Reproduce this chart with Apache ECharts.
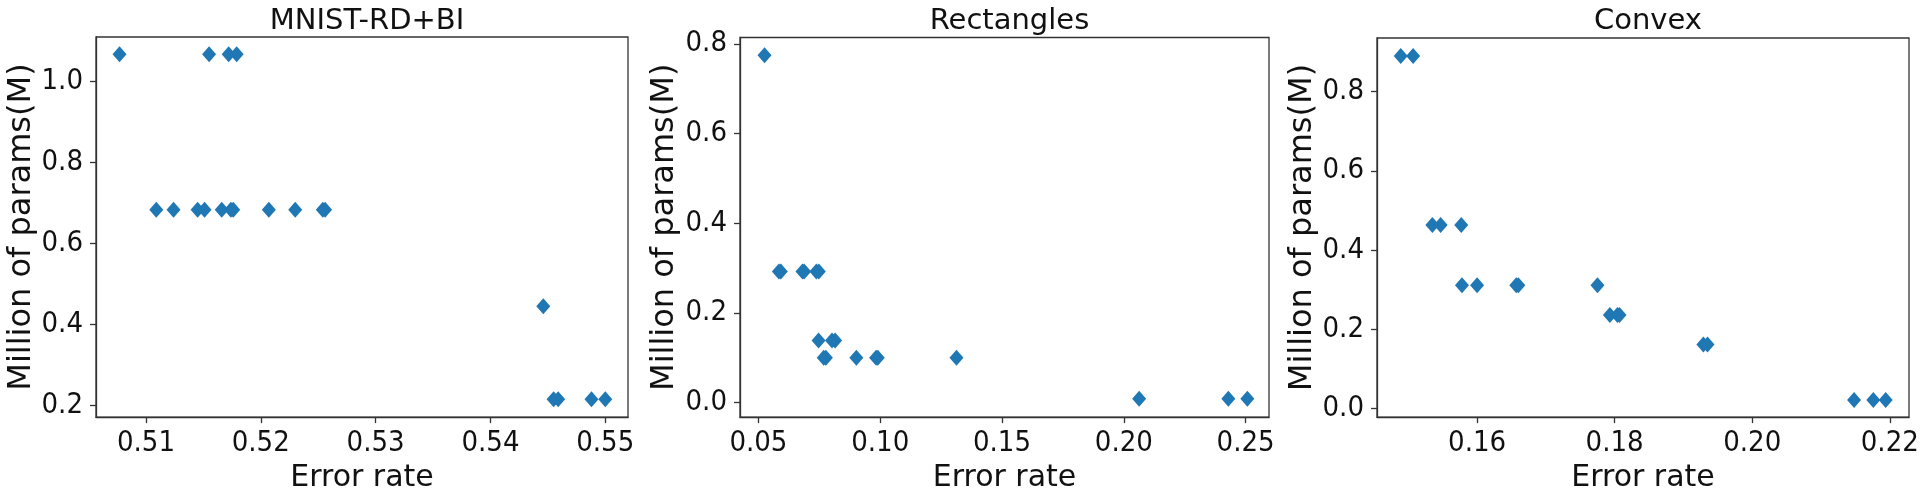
<!DOCTYPE html>
<html><head><meta charset="utf-8">
<script src="https://cdn.jsdelivr.net/npm/echarts@6/dist/echarts.min.js"></script>
<style>html,body{margin:0;padding:0;background:#fff;}#c{width:1922px;height:498px;}</style>
</head><body><div id="c"></div>
<script>
// ---- data ----
const titles = ['MNIST-RD+BI', 'Rectangles', 'Convex'];
const xName = 'Error rate';
const yName = 'Million of params(M)';

const mnistErr = [0.5077, 0.5155, 0.5172, 0.5179,
  0.5109, 0.5124, 0.5145, 0.5151, 0.5166, 0.5174, 0.5176, 0.5207, 0.5230, 0.5254, 0.5256,
  0.5446,
  0.5455, 0.5459, 0.5488, 0.5500];
const mnistParams = [1.066, 1.066, 1.066, 1.066,
  0.683, 0.683, 0.683, 0.683, 0.683, 0.683, 0.683, 0.683, 0.683, 0.683, 0.683,
  0.445,
  0.216, 0.216, 0.216, 0.216];

const rectErr = [0.0525,
  0.0584, 0.0592, 0.0681, 0.0688, 0.0738, 0.0748,
  0.0747, 0.0802, 0.0815,
  0.0768, 0.0777, 0.0902, 0.0983, 0.0990, 0.1313,
  0.2063, 0.2429, 0.2507];
const rectParams = [0.775,
  0.292, 0.292, 0.292, 0.292, 0.292, 0.292,
  0.138, 0.138, 0.138,
  0.100, 0.100, 0.100, 0.100, 0.100, 0.100,
  0.008, 0.008, 0.008];

const convexErr = [0.1489, 0.1507,
  0.1535, 0.1547, 0.1577,
  0.1578, 0.1600, 0.1657, 0.1660, 0.1775,
  0.1793, 0.1804, 0.1807,
  0.1929, 0.1935,
  0.2148, 0.2176, 0.2194];
const convexParams = [0.890, 0.890,
  0.463, 0.463, 0.463,
  0.311, 0.311, 0.311, 0.311, 0.311,
  0.236, 0.236, 0.236,
  0.161, 0.161,
  0.021, 0.021, 0.021];

const mnistXTicks = [0.51, 0.52, 0.53, 0.54, 0.55];
const mnistYTicks = [0.2, 0.4, 0.6, 0.8, 1.0];
const rectXTicks = [0.05, 0.10, 0.15, 0.20, 0.25];
const rectYTicks = [0.0, 0.2, 0.4, 0.6, 0.8];
const convexXTicks = [0.16, 0.18, 0.20, 0.22];
const convexYTicks = [0.0, 0.2, 0.4, 0.6, 0.8];

// ---- layout ----
const panels = [
  {err: mnistErr, par: mnistParams, xt: mnistXTicks, yt: mnistYTicks, xd: 2, yd: 1, yGap: 55,
   xr: [0.50565, 0.55198], yr: [0.1718, 1.1086], grid: {left: 96, top: 37, width: 532, height: 389}},
  {err: rectErr, par: rectParams, xt: rectXTicks, yt: rectYTicks, xd: 2, yd: 1, yGap: 59,
   xr: [0.04244, 0.2596], yr: [-0.0327, 0.8144], grid: {left: 740, top: 37.5, width: 529, height: 388.5}},
  {err: convexErr, par: convexParams, xt: convexXTicks, yt: convexYTicks, xd: 2, yd: 1, yGap: 58,
   xr: [0.14545, 0.22279], yr: [-0.0222, 0.9356], grid: {left: 1377, top: 38, width: 532, height: 389}}
];

const FONT = 'DejaVu Sans';
const TICKFONT = "'DejaVu Sans Condensed', 'DejaVu Sans'";
const AX = '#333';
const TXT = '#111';
const option = {
  animation: false,
  backgroundColor: '#fff',
  title: [], grid: [], xAxis: [], yAxis: [], series: []
};
panels.forEach((p, i) => {
  const g = p.grid;
  option.grid.push(Object.assign({show: true, borderColor: AX, borderWidth: 1.3, backgroundColor: 'transparent', containLabel: false}, g));
  option.title.push({
    text: titles[i], left: g.left + g.width / 2, top: 2, textAlign: 'center',
    textStyle: {fontFamily: FONT, fontSize: 29, fontWeight: 'normal', color: TXT}
  });
  option.xAxis.push({
    type: 'value', gridIndex: i, min: p.xr[0], max: p.xr[1],
    name: xName, nameLocation: 'middle', nameGap: 44,
    nameTextStyle: {fontFamily: FONT, fontSize: 30, color: TXT},
    axisLine: {show: true, onZero: false, lineStyle: {color: AX, width: 1.3}},
    axisTick: {show: true, length: 6, customValues: p.xt, lineStyle: {color: AX, width: 1.3}},
    axisLabel: {show: true, margin: 12, customValues: p.xt, fontFamily: TICKFONT, fontSize: 29, color: TXT,
      formatter: v => Number(v).toFixed(p.xd)},
    splitLine: {show: false}
  });
  option.yAxis.push({
    type: 'value', gridIndex: i, min: p.yr[0], max: p.yr[1],
    name: yName, nameLocation: 'middle', nameGap: p.yGap, nameRotate: 90,
    nameTextStyle: {fontFamily: FONT, fontSize: 32, color: TXT},
    axisLine: {show: true, onZero: false, lineStyle: {color: AX, width: 1.3}},
    axisTick: {show: true, length: 6, customValues: p.yt, lineStyle: {color: AX, width: 1.3}},
    axisLabel: {show: true, margin: 13, customValues: p.yt, fontFamily: TICKFONT, fontSize: 29, color: TXT,
      formatter: v => Number(v).toFixed(p.yd)},
    splitLine: {show: false}
  });
  option.series.push({
    type: 'scatter', xAxisIndex: i, yAxisIndex: i,
    symbol: 'diamond', symbolSize: [14, 16],
    itemStyle: {color: '#1f77b4', opacity: 1},
    data: p.err.map((x, k) => [x, p.par[k]])
  });
});
const chart = echarts.init(document.getElementById('c'), null, {renderer: 'canvas'});
chart.setOption(option);
</script>
</body></html>
